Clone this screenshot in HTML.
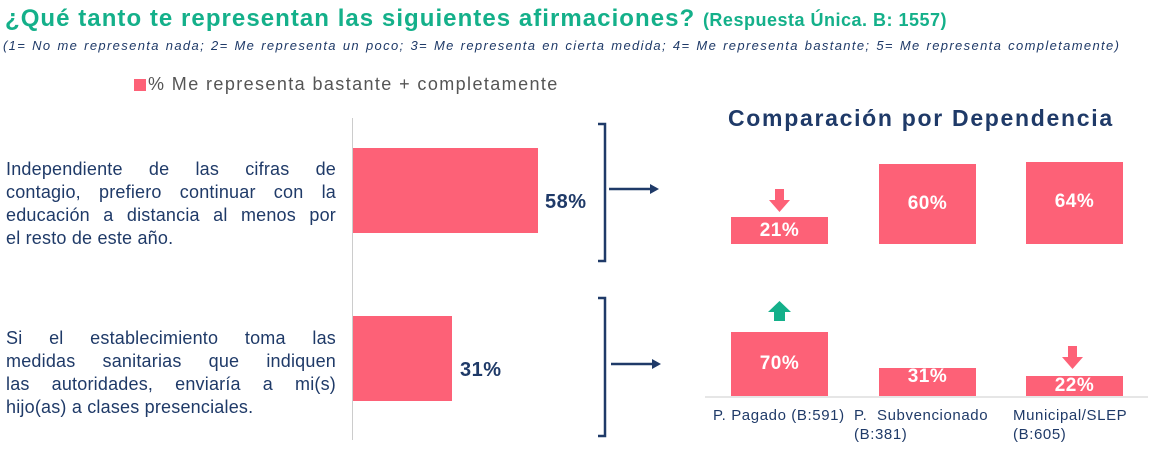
<!DOCTYPE html>
<html><head><meta charset="utf-8"><style>
body{margin:0;width:1157px;height:453px;background:#fff;position:relative;overflow:hidden;font-family:"Liberation Sans","DejaVu Sans",sans-serif;}
div{position:absolute;}
.bar{background:#fd6177;}
.w{color:#fff;font-weight:bold;font-size:19px;text-align:center;letter-spacing:0.5px}
.n{color:#1f3a68;}
.p div{position:static;text-align:justify;text-align-last:justify;height:23px}
.p div.l{text-align-last:left}
</style></head><body>
<div style="left:5px;top:5px;font-size:24px;font-weight:bold;color:#14b08a;white-space:nowrap;letter-spacing:1.05px">¿Qué tanto te representan las siguientes afirmaciones? <span style="font-size:18px;letter-spacing:0.5px">(Respuesta Única. B: 1557)</span></div>
<div class="n" style="left:3px;top:38px;font-size:13px;font-style:italic;white-space:nowrap;letter-spacing:1.35px;word-spacing:1px">(1= No me representa nada; 2= Me representa un poco; 3= Me representa en cierta medida; 4= Me representa bastante; 5= Me representa completamente)</div>
<div style="left:134px;top:79px;width:12px;height:12px;background:#fd6177"></div>
<div style="left:148px;top:74px;font-size:18px;color:#555;white-space:nowrap;letter-spacing:1.4px">% Me representa bastante + completamente</div>
<div class="n p" style="left:6px;top:158px;width:330px;font-size:18px;line-height:23px;letter-spacing:0.2px">
<div>Independiente de las cifras de</div><div>contagio, prefiero continuar con la</div><div>educación a distancia al menos por</div><div class="l">el resto de este año.</div></div>
<div class="n p" style="left:6px;top:327px;width:330px;font-size:18px;line-height:23px;letter-spacing:0.2px">
<div>Si el establecimiento toma las</div><div>medidas sanitarias que indiquen</div><div>las autoridades, enviaría a mi(s)</div><div class="l">hijo(as) a clases presenciales.</div></div>
<div style="left:352px;top:118px;width:1px;height:322px;background:#ccc"></div>
<div class="bar" style="left:353px;top:148px;width:185px;height:85px"></div>
<div class="bar" style="left:353px;top:316px;width:99px;height:85px"></div>
<div class="n" style="left:545px;top:191px;font-size:20px;font-weight:bold;letter-spacing:0.5px">58%</div>
<div class="n" style="left:460px;top:359px;font-size:20px;font-weight:bold;letter-spacing:0.5px">31%</div>
<svg style="position:absolute;left:0;top:0" width="1157" height="453">
<g stroke="#1f3a68" stroke-width="2.5" fill="none">
<polyline points="598,124 605,124 605,261 598,261"/>
<polyline points="598,298 605,298 605,436 598,436"/>
<line x1="609" y1="189" x2="652" y2="189"/>
<line x1="611" y1="364" x2="654" y2="364"/>
</g>
<polygon points="650,184 659,189 650,194" fill="#1f3a68"/>
<polygon points="652,359 661,364 652,369" fill="#1f3a68"/>
<line x1="705" y1="397" x2="1148" y2="397" stroke="#ccc" stroke-width="1"/>
<polygon points="775,189 784,189 784,200 790,200 779.5,212 769,200 775,200" fill="#fd6177"/>
<polygon points="1068,346 1077,346 1077,357 1083,357 1072.5,369 1062,357 1068,357" fill="#fd6177"/>
<polygon points="779.5,301 791,312 785,312 785,321 774,321 774,312 768,312" fill="#14b08a"/>
</svg>
<div class="n" style="left:728px;top:105px;font-size:23px;font-weight:bold;white-space:nowrap;letter-spacing:1.7px">Comparación por Dependencia</div>
<div class="bar w" style="left:731px;top:217px;width:97px;height:27px;line-height:27px">21%</div>
<div class="bar w" style="left:879px;top:164px;width:97px;height:80px;line-height:80px">60%</div>
<div class="bar w" style="left:1026px;top:162px;width:97px;height:82px;line-height:80px">64%</div>
<div class="bar w" style="left:731px;top:332px;width:97px;height:64px;line-height:64px">70%</div>
<div class="bar w" style="left:879px;top:368px;width:97px;height:28px;line-height:18px">31%</div>
<div class="bar w" style="left:1026px;top:376px;width:97px;height:20px;line-height:20px">22%</div>
<div class="n" style="left:713px;top:406px;font-size:15px;line-height:19px;white-space:nowrap;letter-spacing:0.6px">P. Pagado (B:591)</div>
<div class="n" style="left:854px;top:406px;font-size:15px;line-height:19px;white-space:nowrap;letter-spacing:0.6px">P. &nbsp;Subvencionado<br>(B:381)</div>
<div class="n" style="left:1013px;top:406px;font-size:15px;line-height:19px;white-space:nowrap;letter-spacing:0.6px">Municipal/SLEP<br>(B:605)</div>
</body></html>
